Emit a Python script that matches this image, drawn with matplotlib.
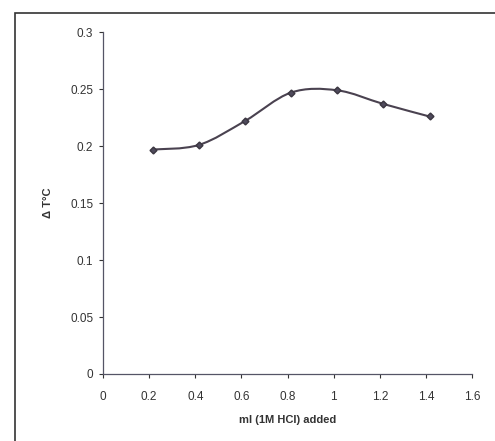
import numpy as np
import matplotlib
matplotlib.use('Agg')
import matplotlib.pyplot as plt
from matplotlib.path import Path
from matplotlib.patches import PathPatch, Rectangle

# data
hcl_ml = [0.215, 0.415, 0.615, 0.815, 1.015, 1.215, 1.415]
delta_t = [0.197, 0.201, 0.222, 0.247, 0.249, 0.237, 0.226]
x_ticks = [0, 0.2, 0.4, 0.6, 0.8, 1, 1.2, 1.4, 1.6]
y_ticks = [0, 0.05, 0.1, 0.15, 0.2, 0.25, 0.3]

plt.rcParams['font.family'] = ['Liberation Sans', 'DejaVu Sans']

fig = plt.figure(figsize=(4.95, 4.41), dpi=100)
ax = fig.add_axes([0.208, 0.152, 0.746, 0.775])

# smoothed line like the spreadsheet "smoothed line" option (Catmull-Rom as beziers)
xs = np.array(hcl_ml)
ys = np.array(delta_t)
verts = [(xs[0], ys[0])]
codes = [Path.MOVETO]
for i in range(len(xs) - 1):
    p0 = np.array([xs[max(i - 1, 0)], ys[max(i - 1, 0)]])
    p1 = np.array([xs[i], ys[i]])
    p2 = np.array([xs[i + 1], ys[i + 1]])
    p3 = np.array([xs[min(i + 2, len(xs) - 1)], ys[min(i + 2, len(xs) - 1)]])
    c1 = p1 + (p2 - p0) / 6
    c2 = p2 - (p3 - p1) / 6
    verts += [tuple(c1), tuple(c2), tuple(p2)]
    codes += [Path.CURVE4] * 3
ax.add_patch(PathPatch(Path(verts, codes), facecolor='none', edgecolor='#4a4250', lw=1.5))
ax.plot(hcl_ml, delta_t, ls='none', marker='D', ms=3.5, color='#4f4a5c', mec='#3a3640')

ax.set_xlim(0, 1.6)
ax.set_ylim(0, 0.3)
ax.set_xticks(x_ticks)
ax.set_xticklabels([f'{t:g}' for t in x_ticks])
ax.set_yticks(y_ticks)
ax.set_yticklabels([f'{t:g}' for t in y_ticks])
ax.tick_params(labelsize=8.5, length=3, width=0.8, colors='#333333')
ax.tick_params(axis='x', pad=9)
ax.tick_params(axis='y', pad=4)
for s in ['top', 'right']:
    ax.spines[s].set_visible(False)
for s in ['left', 'bottom']:
    ax.spines[s].set_color('#555566')
    ax.spines[s].set_linewidth(0.9)

ax.set_xlabel('ml (1M HCl) added', fontsize=8, fontweight='bold', color='#333333', labelpad=9)
ax.set_ylabel('Δ T°C', fontsize=8, fontweight='bold', color='#333333', labelpad=12)

# outer frame of the scanned figure
fig.add_artist(Rectangle((15 / 495, -0.1), 1.2, 0.1 + 1 - 13 / 441, transform=fig.transFigure,
                         facecolor='none', edgecolor='#333333', lw=1.2))

fig.savefig('out.png', dpi=100)
